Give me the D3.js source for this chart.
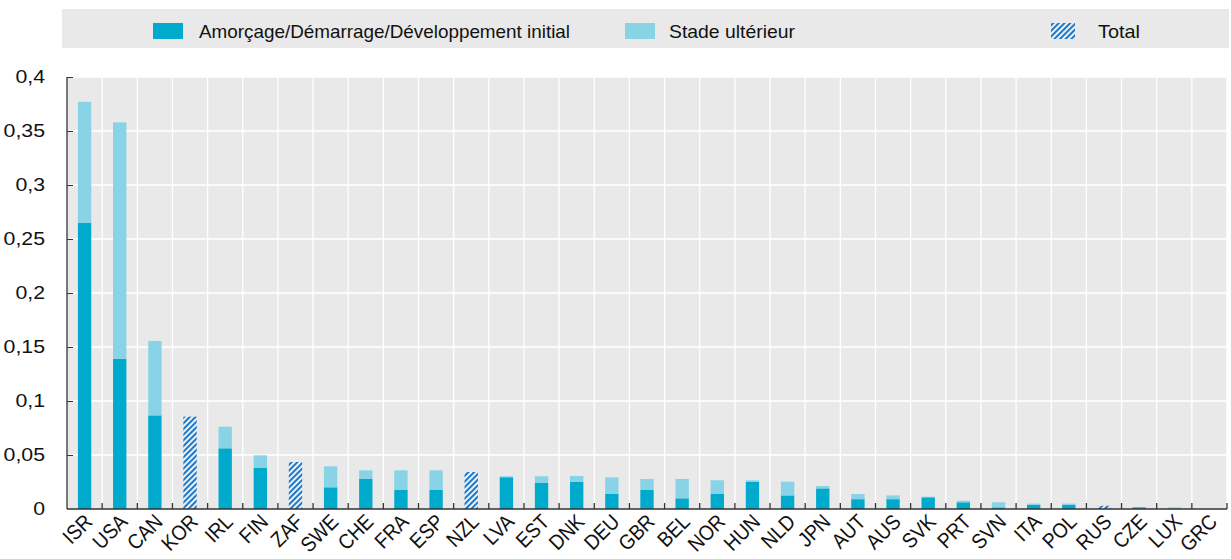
<!DOCTYPE html>
<html>
<head>
<meta charset="utf-8">
<script src="https://cdn.jsdelivr.net/npm/d3@7"></script>
<style>
  body { margin: 0; background: #fff; }
  svg { display: block; font-family: "Liberation Sans", Arial, sans-serif; }
</style>
</head>
<body>
<svg id="canvas" width="1231" height="559"></svg>
<script>
// ---- data ----
var countries = ['ISR','USA','CAN','KOR','IRL','FIN','ZAF','SWE','CHE','FRA','ESP','NZL','LVA','EST','DNK','DEU','GBR','BEL','NOR','HUN','NLD','JPN','AUT','AUS','SVK','PRT','SVN','ITA','POL','RUS','CZE','LUX','GRC'];
var early  = [0.265,0.139,0.0867,null,0.0562,0.0383,null,0.0201,0.0278,0.0176,0.0176,null,0.0294,0.0241,0.0253,0.0139,0.0176,0.0099,0.0139,0.0253,0.0126,0.0191,0.0091,0.0091,0.0108,0.0062,0.0015,0.004,0.004,null,0.0016,0,0];
var later  = [0.112,0.219,0.0689,null,0.02,0.0114,null,0.0194,0.008,0.0182,0.0182,null,0.0009,0.0062,0.0053,0.0154,0.0102,0.0179,0.0127,0.0013,0.0127,0.0022,0.0048,0.0035,0.0006,0.0015,0.0047,0.001,0.001,null,0.0002,0.0015,0];
var totalOnly = [null,null,null,0.0855,null,null,0.0435,null,null,null,null,0.0343,null,null,null,null,null,null,null,null,null,null,null,null,null,null,null,null,null,0.003,null,null,null];
var yTicks = [0,0.05,0.1,0.15,0.2,0.25,0.3,0.35,0.4];
var legendLabels = ['Amorçage/Démarrage/Développement initial','Stade ultérieur','Total'];

var darkColor = '#00aacc';
var lightColor = '#88d3e6';
var hatchColor = '#1f78c8';
var textColor = '#111';

var svg = d3.select('#canvas');

// ************************************************************************** //
// Defs

var defs = svg.append('defs');
var pat = defs.append('pattern')
  .attr('id', 'hatch').attr('patternUnits', 'userSpaceOnUse')
  .attr('width', 4).attr('height', 4)
  .attr('patternTransform', 'rotate(45)');
pat.append('rect').attr('width', 4).attr('height', 4).attr('fill', '#fff');
pat.append('rect').attr('width', 2.2).attr('height', 4).attr('fill', hatchColor);

// ************************************************************************** //
// Legend

var legend = svg.append('g');
legend.append('rect').attr('x', 62).attr('y', 9).attr('width', 1167).attr('height', 39).attr('fill', '#e9e9e9');
var legItems = [
  { x: 153, w: 30, fill: darkColor, tx: 199, tl: 371 },
  { x: 625, w: 30, fill: lightColor, tx: 669, tl: 126 },
  { x: 1051, w: 24, fill: 'url(#hatch)', tx: 1098, tl: 42 }
];
legItems.forEach(function(d, i){
  legend.append('rect').attr('x', d.x).attr('y', 23).attr('width', d.w).attr('height', 16).attr('fill', d.fill);
  legend.append('text').attr('x', d.tx).attr('y', 37.5)
    .attr('font-size', 18.5).attr('fill', textColor)
    .attr('textLength', d.tl).attr('lengthAdjust', 'spacingAndGlyphs')
    .text(legendLabels[i]);
});

// ************************************************************************** //
// Scales / plot area

var plot = { left: 67, right: 1227, top: 77, bottom: 509 };
var x = d3.scaleBand().domain(countries).range([plot.left, plot.right]).paddingInner(0.62).paddingOuter(0.31);
var y = d3.scaleLinear().domain([0, 0.4]).range([plot.bottom, plot.top]);
var step = x.step();

var g = svg.append('g');
g.append('rect').attr('x', plot.left).attr('y', plot.top).attr('width', plot.right - plot.left).attr('height', plot.bottom - plot.top).attr('fill', '#e9e9e9');

// gridlines
g.selectAll('.hgrid').data(yTicks.slice(1)).enter().append('line')
  .attr('x1', plot.left).attr('x2', plot.right)
  .attr('y1', function(d){ return y(d); }).attr('y2', function(d){ return y(d); })
  .attr('stroke', '#fff').attr('stroke-width', 1.3);
var bounds = d3.range(1, countries.length + 1).map(function(i){ return plot.left + i*step; });
g.selectAll('.vgrid').data(bounds).enter().append('line')
  .attr('x1', function(d){ return d; }).attr('x2', function(d){ return d; })
  .attr('y1', plot.top).attr('y2', plot.bottom)
  .attr('stroke', '#fff').attr('stroke-width', 1.3);

// bars
var rows = countries.map(function(c, i){ return { c: c, e: early[i], l: later[i], t: totalOnly[i] }; });
var bw = x.bandwidth();

g.selectAll('.early').data(rows.filter(function(d){ return d.e != null; })).enter().append('rect')
  .attr('x', function(d){ return x(d.c); }).attr('width', bw)
  .attr('y', function(d){ return y(d.e); })
  .attr('height', function(d){ return y(0) - y(d.e); })
  .attr('fill', darkColor);

g.selectAll('.later').data(rows.filter(function(d){ return d.l != null; })).enter().append('rect')
  .attr('x', function(d){ return x(d.c); }).attr('width', bw)
  .attr('y', function(d){ return y(d.e + d.l); })
  .attr('height', function(d){ return y(d.e) - y(d.e + d.l); })
  .attr('fill', lightColor);

g.selectAll('.total').data(rows.filter(function(d){ return d.t != null; })).enter().append('rect')
  .attr('x', function(d){ return x(d.c); }).attr('width', bw)
  .attr('y', function(d){ return y(d.t); })
  .attr('height', function(d){ return y(0) - y(d.t); })
  .attr('fill', 'url(#hatch)');

// ************************************************************************** //
// Axes

var yAxis = g.append('g').attr('transform', 'translate(' + plot.left + ',0)')
  .call(d3.axisRight(y).tickValues(yTicks).tickSize(6).tickFormat(function(d){ return String(d).replace('.', ','); }));
yAxis.select('.domain').remove();
yAxis.selectAll('.tick line').attr('stroke', '#333');
yAxis.selectAll('.tick text').attr('x', -22).attr('text-anchor', 'end').attr('font-size', 18.5).attr('fill', textColor).attr('font-family', '"Liberation Sans", Arial, sans-serif')
  .each(function(){ var w = this.getComputedTextLength(); d3.select(this).attr('textLength', w*1.15).attr('lengthAdjust', 'spacingAndGlyphs'); });
yAxis.selectAll('.tick').filter(function(d){ return d === 0; }).select('line').remove();

g.append('line').attr('x1', plot.left).attr('x2', plot.left).attr('y1', plot.top).attr('y2', plot.bottom).attr('stroke', '#333').attr('stroke-width', 1.3);

// bottom ticks at band boundaries (pointing up)
g.selectAll('.xtick').data(bounds).enter().append('line')
  .attr('x1', function(d){ return d; }).attr('x2', function(d){ return d; })
  .attr('y1', plot.bottom - 6).attr('y2', plot.bottom)
  .attr('stroke', '#333').attr('stroke-width', 1.3);
g.append('line').attr('x1', plot.left).attr('x2', plot.right).attr('y1', plot.bottom).attr('y2', plot.bottom).attr('stroke', '#333').attr('stroke-width', 1.5);

// rotated labels
g.selectAll('.xlab').data(countries).enter().append('text')
  .attr('transform', function(d){ return 'translate(' + (x(d) + bw/2 + 9) + ',' + (plot.bottom + 14) + ') rotate(-45)'; })
  .attr('text-anchor', 'end').attr('font-size', 21).attr('fill', textColor)
  .text(function(d){ return d; })
  .each(function(){ var w = this.getComputedTextLength(); d3.select(this).attr('textLength', w*0.9).attr('lengthAdjust', 'spacingAndGlyphs'); });
</script>
</body>
</html>
